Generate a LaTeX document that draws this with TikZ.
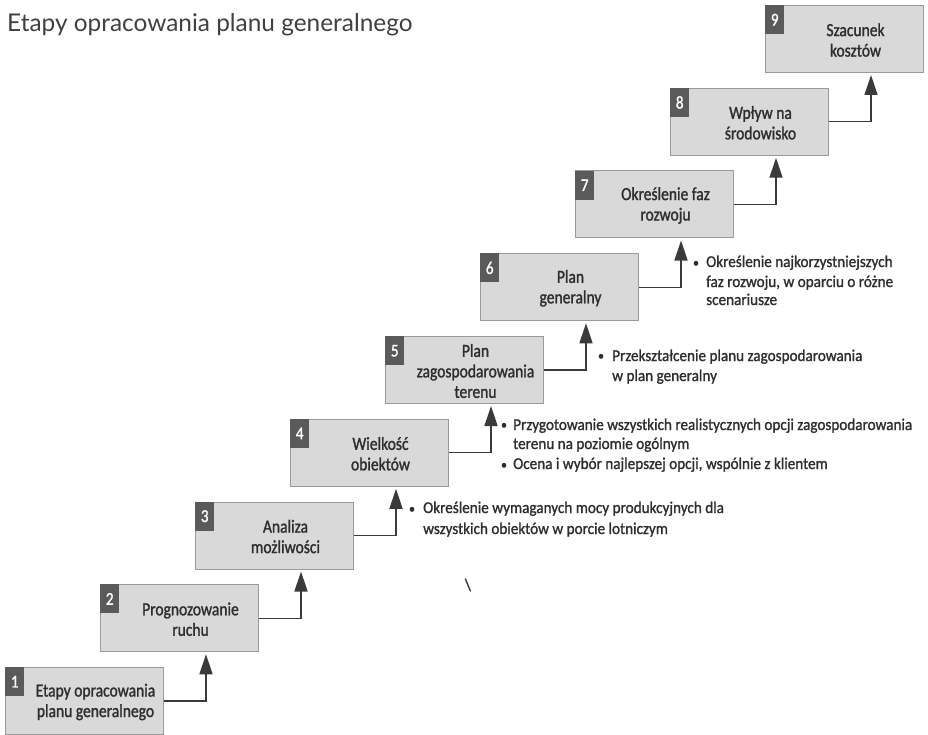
\documentclass[tikz,border=0pt]{standalone}
\usepackage{fontspec}
\setmainfont{Carlito}[FakeStretch=0.92, FakeBold=1.2]
\newfontfamily\condfont{Carlito}[FakeStretch=0.84, FakeBold=1.3]
\newfontfamily\titlefont{Lato}
\usetikzlibrary{arrows.meta,calc}
\definecolor{boxfill}{HTML}{D9D9D9}
\definecolor{boxline}{HTML}{9A9A9A}
\definecolor{tabgray}{HTML}{5A5A5A}
\definecolor{txt}{HTML}{2E2E2E}
\definecolor{titlecol}{HTML}{404040}
\definecolor{conncol}{HTML}{3A3A3A}
\newcommand\stage[2]{%
  \pgfmathsetmacro\bx{5+95*(#1-1)}%
  \pgfmathsetmacro\by{667-82.75*(#1-1)}%
  \node[box] (s#1) at (\bx,\by) {};
  \node[tab] (n#1) at (s#1.north west) {#1};
  \node[lbl] (l#1) at ($(s#1.center)+(11,1)$) {#2};
}
\begin{document}
\begin{tikzpicture}[x=1pt,y=-1pt,
  box/.style={draw=boxline, line width=1pt, fill=boxfill, minimum width=158pt, minimum height=67pt, inner sep=0pt, anchor=north west},
  tab/.style={fill=tabgray, minimum width=19pt, minimum height=29pt, inner sep=0pt, anchor=north west, text=white, font=\condfont\fontsize{18}{18}\selectfont},
  lbl/.style={align=center, text=txt, inner sep=0pt, font=\condfont\fontsize{18.5}{20.5}\selectfont},
  conn/.style={draw=conncol, line width=1.4pt, -{Triangle[width=13pt,length=20pt]}, shorten >=2pt},
  bul/.style={text=txt, inner sep=0pt, anchor=base, font=\fontsize{13}{13}\selectfont},
  note/.style={text=txt, inner sep=0pt, anchor=base west, font=\fontsize{16.5}{20}\selectfont}]
\useasboundingbox (0,0) rectangle (928,735);
\node[anchor=west, inner sep=0pt, text=titlecol, font=\titlefont\fontsize{24.4}{24.4}\selectfont] (title) at (7,25) {Etapy opracowania planu generalnego};

\stage{1}{Etapy opracowania\\planu generalnego}
\stage{2}{Prognozowanie\\ruchu}
\stage{3}{Analiza\\możliwości}
\stage{4}{Wielkość\\obiektów}
\stage{5}{Plan\\zagospodarowania\\terenu}
\stage{6}{Plan\\generalny}
\stage{7}{Określenie faz\\rozwoju}
\stage{8}{Wpływ na\\środowisko}
\stage{9}{Szacunek\\kosztów}

\foreach \i [evaluate=\i as \j using int(\i+1)] in {1,...,8}
  \draw[conn] (s\i.east) -| ($(s\j.south west)+(106,0)$);

% notes
\node[bul] (b3) at (412,513) {•};
\node[note] (t3a) at (423,513) {Określenie wymaganych mocy produkcyjnych dla};
\node[note] (t3b) at (423,534) {wszystkich obiektów w porcie lotniczym};

\node[bul] (b4a) at (504,429) {•};
\node[note] (t4a) at (513,430) {Przygotowanie wszystkich realistycznych opcji zagospodarowania};
\node[note] (t4b) at (513,449) {terenu na poziomie ogólnym};
\node[bul] (b4b) at (504,469) {•};
\node[note] (t4c) at (513,469) {Ocena i wybór najlepszej opcji, wspólnie z klientem};

\node[bul] (b5) at (601,360) {•};
\node[note] (t5a) at (612,361) {Przekształcenie planu zagospodarowania};
\node[note] (t5b) at (612,381) {w plan generalny};

\node[bul] (b6) at (696,267) {•};
\node[note] (t6a) at (706,267) {Określenie najkorzystniejszych};
\node[note] (t6b) at (706,287) {faz rozwoju, w oparciu o różne};
\node[note] (t6c) at (706,305) {scenariusze};

\node[text=txt, inner sep=0pt, font=\fontsize{17}{17}\selectfont] (bs) at (468,585) {\textbackslash};
\end{tikzpicture}
\end{document}
